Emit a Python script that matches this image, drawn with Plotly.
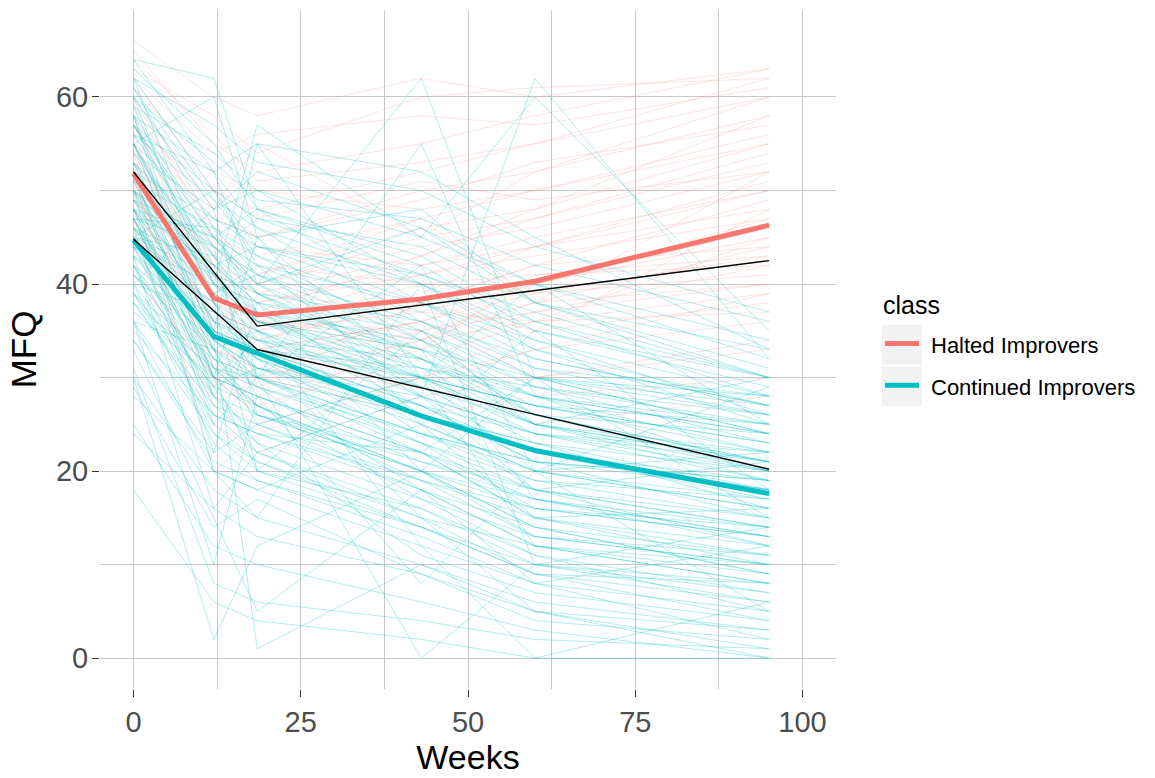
import plotly.graph_objects as go

# Assessment times (weeks)
weeks = [0, 12, 18.5, 43, 60, 95]

# Individual MFQ trajectories, one row per participant, values at each assessment
continued_improvers = [
    [58, 45, 40, 33, 28, 24], [52, 40, 36, 30, 25, 20], [48, 36, 33, 27, 21, 15],
    [45, 30, 28, 22, 18, 12], [41, 33, 35, 28, 24, 22], [50, 42, 38, 35, 30, 26],
    [55, 38, 30, 22, 15, 10], [62, 50, 44, 38, 32, 27], [47, 28, 22, 15, 12, 8],
    [43, 35, 33, 30, 27, 25], [38, 26, 24, 18, 14, 9], [60, 48, 50, 40, 34, 28],
    [49, 37, 34, 25, 20, 16], [53, 44, 40, 30, 25, 21], [36, 20, 18, 12, 8, 5],
    [46, 39, 36, 31, 28, 25], [57, 42, 38, 26, 18, 14], [44, 31, 29, 24, 21, 19],
    [51, 35, 31, 28, 24, 20], [40, 29, 27, 20, 16, 13], [64, 52, 46, 36, 30, 24],
    [48, 45, 42, 35, 29, 23], [42, 24, 20, 16, 10, 6], [55, 47, 44, 41, 36, 30],
    [39, 32, 30, 26, 22, 18], [50, 30, 26, 20, 14, 11], [45, 41, 37, 33, 30, 27],
    [34, 22, 25, 18, 12, 8], [59, 40, 34, 30, 27, 22], [47, 33, 30, 23, 19, 15],
    [43, 38, 35, 27, 22, 17], [52, 28, 24, 19, 16, 14], [37, 30, 28, 22, 17, 12],
    [61, 46, 41, 32, 25, 19], [49, 41, 39, 36, 31, 28], [44, 27, 23, 17, 13, 10],
    [53, 36, 32, 26, 23, 20], [30, 18, 15, 10, 6, 3], [56, 49, 46, 40, 33, 25],
    [41, 34, 31, 25, 20, 16], [48, 25, 21, 14, 9, 4], [46, 37, 35, 30, 27, 23],
    [54, 43, 37, 28, 22, 18], [39, 28, 26, 21, 18, 14], [25, 12, 10, 6, 3, 0],
    [50, 39, 36, 29, 25, 21], [58, 31, 27, 20, 17, 13], [42, 35, 33, 31, 29, 26],
    [47, 44, 41, 34, 28, 22], [35, 26, 22, 16, 11, 7], [63, 55, 48, 42, 35, 30],
    [45, 32, 29, 23, 18, 15], [51, 46, 43, 37, 31, 26], [40, 23, 19, 13, 8, 2],
    [55, 34, 31, 27, 24, 21], [18, 6, 4, 2, 0, 0], [44, 40, 38, 33, 26, 20],
    [49, 34, 30, 24, 21, 18], [57, 45, 39, 32, 27, 23], [38, 31, 27, 19, 15, 11],
    [46, 22, 38, 20, 30, 15], [52, 30, 45, 25, 35, 18], [40, 48, 30, 42, 20, 22],
    [58, 35, 55, 30, 12, 10], [36, 10, 28, 8, 20, 5], [50, 20, 15, 40, 10, 8],
    [44, 38, 20, 35, 25, 30], [62, 40, 57, 45, 60, 35], [33, 15, 5, 18, 8, 12],
    [48, 42, 30, 55, 28, 20], [55, 60, 45, 30, 40, 25], [42, 28, 35, 12, 0, 6],
    [30, 2, 12, 20, 14, 9], [47, 34, 1, 10, 5, 3], [39, 25, 30, 0, 10, 14],
    [53, 45, 40, 62, 30, 28], [45, 50, 42, 28, 62, 32], [60, 38, 32, 15, 5, 0],
    [28, 20, 18, 25, 15, 16], [36, 33, 25, 30, 20, 29], [64, 62, 48, 38, 33, 27],
    [50, 44, 26, 22, 30, 24], [43, 16, 22, 28, 18, 21], [56, 52, 40, 46, 38, 33],
    [57, 50, 47, 44, 38, 30], [54, 48, 52, 46, 40, 34], [60, 53, 49, 47, 42, 36],
    [49, 45, 48, 43, 36, 28], [62, 57, 53, 50, 44, 37], [52, 47, 45, 48, 38, 31],
    [46, 42, 44, 40, 35, 29], [58, 52, 55, 52, 45, 33], [55, 39, 42, 38, 34, 26],
    [51, 43, 47, 41, 37, 30], [48, 39, 41, 36, 32, 27], [59, 54, 50, 45, 40, 32],
    [44, 36, 34, 32, 26, 24], [47, 29, 31, 26, 22, 19], [42, 31, 30, 24, 20, 17],
    [50, 36, 28, 21, 17, 14], [38, 27, 25, 19, 13, 11], [45, 26, 24, 22, 15, 12],
    [53, 33, 29, 18, 12, 9], [41, 30, 20, 14, 10, 7], [36, 24, 21, 15, 9, 6],
    [48, 32, 27, 17, 11, 5], [55, 41, 35, 24, 19, 17], [43, 33, 26, 20, 13, 10],
    [39, 29, 23, 11, 7, 4], [46, 35, 32, 23, 16, 13], [52, 38, 33, 27, 21, 19],
    [34, 21, 19, 14, 9, 8], [29, 14, 17, 9, 4, 2], [57, 44, 39, 29, 23, 16],
    [61, 49, 43, 34, 26, 21], [40, 37, 32, 26, 23, 18], [45, 43, 39, 31, 25, 22],
    [50, 41, 36, 32, 28, 24], [48, 30, 34, 29, 26, 21], [24, 16, 13, 9, 5, 1],
    [31, 8, 6, 4, 2, 1], [53, 40, 37, 34, 29, 25], [47, 46, 37, 30, 24, 19],
    [56, 43, 36, 33, 17, 13],
]

halted_improvers = [
    [60, 48, 45, 50, 52, 58], [55, 40, 38, 42, 45, 50], [50, 35, 33, 36, 40, 47],
    [48, 32, 30, 34, 38, 44], [57, 45, 42, 40, 41, 43], [62, 50, 48, 52, 55, 62],
    [46, 30, 28, 33, 37, 42], [53, 42, 40, 44, 46, 52], [58, 38, 36, 35, 38, 40],
    [44, 28, 25, 30, 35, 38], [65, 55, 52, 55, 58, 63], [51, 36, 34, 38, 42, 49],
    [49, 40, 36, 34, 36, 37], [56, 44, 41, 46, 48, 55], [47, 33, 31, 29, 33, 36],
    [54, 30, 27, 32, 36, 45], [59, 46, 44, 42, 44, 48], [52, 37, 35, 40, 39, 41],
    [43, 25, 22, 28, 30, 33], [61, 52, 50, 48, 50, 56], [50, 44, 40, 45, 47, 53],
    [55, 34, 30, 26, 28, 30], [48, 36, 38, 41, 43, 47], [57, 41, 39, 37, 40, 45],
    [45, 38, 34, 39, 44, 50], [63, 58, 54, 60, 61, 62], [52, 20, 24, 30, 33, 39],
    [49, 42, 37, 43, 48, 58], [54, 39, 33, 36, 30, 34], [58, 48, 55, 45, 52, 60],
    [47, 29, 36, 33, 41, 42], [53, 43, 29, 38, 35, 48], [66, 60, 58, 62, 60, 63],
    [41, 30, 26, 35, 25, 28], [56, 35, 41, 47, 38, 52], [60, 45, 43, 47, 50, 55],
    [52, 39, 36, 41, 44, 51], [57, 47, 45, 49, 53, 57], [50, 33, 31, 35, 37, 40],
    [64, 56, 51, 53, 55, 60], [46, 35, 32, 36, 39, 43], [55, 42, 39, 43, 47, 54],
    [48, 37, 35, 37, 36, 39], [59, 50, 47, 51, 49, 52], [51, 31, 29, 34, 40, 46],
    [62, 54, 56, 58, 57, 61], [45, 27, 30, 38, 42, 44],
]

# Estimated class mean trajectories
halted_mean = [51.8, 38.5, 36.7, 38.4, 40.3, 46.3]
continued_mean = [44.7, 34.4, 32.6, 25.9, 22.2, 17.6]

# Piecewise linear fits (knot at 18.5 weeks)
fit_weeks = [0, 18.5, 95]
halted_fit = [52.0, 35.5, 42.5]
continued_fit = [44.8, 33.0, 20.2]

class_names = ["Halted Improvers", "Continued Improvers"]
RED = "#F8766D"
CYAN = "#00BFC4"
RED_FAINT = "rgba(248,118,109,0.2)"
CYAN_FAINT = "rgba(0,191,196,0.3)"

FONT = "Liberation Sans, Arial, sans-serif"
GRID = "#c8c8c8"

fig = go.Figure()

# Individual trajectories, the two classes interleaved
n = max(len(continued_improvers), len(halted_improvers))
for i in range(n):
    if i < len(halted_improvers):
        fig.add_trace(go.Scatter(x=weeks, y=halted_improvers[i], mode="lines",
                                 line=dict(color=RED_FAINT, width=1),
                                 hoverinfo="skip", showlegend=False))
    if i < len(continued_improvers):
        fig.add_trace(go.Scatter(x=weeks, y=continued_improvers[i], mode="lines",
                                 line=dict(color=CYAN_FAINT, width=1),
                                 hoverinfo="skip", showlegend=False))

# Class means
fig.add_trace(go.Scatter(x=weeks, y=halted_mean, mode="lines", name=class_names[0],
                         line=dict(color=RED, width=5), showlegend=False))
fig.add_trace(go.Scatter(x=weeks, y=continued_mean, mode="lines", name=class_names[1],
                         line=dict(color=CYAN, width=5), showlegend=False))

# Piecewise fits
for fit in (halted_fit, continued_fit):
    fig.add_trace(go.Scatter(x=fit_weeks, y=fit, mode="lines",
                             line=dict(color="black", width=1.4),
                             hoverinfo="skip", showlegend=False))

# Plot area geometry (pixels)
W, H = 1155, 778
ML, MR, MT, MB = 100, 319, 10, 84
PW, PH = W - ML - MR, H - MT - MB


def px(xp):
    return (xp - ML) / PW


def py(yp):
    return (H - MB - yp) / PH


# Legend drawn beside the panel
shapes = []
annotations = [
    dict(text="class", x=px(881), y=py(307), xref="paper", yref="paper",
         xanchor="left", yanchor="middle", showarrow=False,
         font=dict(family=FONT, size=25, color="black")),
]
for k, (name, col) in enumerate(zip(class_names, [RED, CYAN])):
    top = 327 + 42 * k
    shapes.append(dict(type="rect", xref="paper", yref="paper",
                       x0=px(882), x1=px(922), y0=py(top), y1=py(top + 40),
                       fillcolor="#F2F2F2", line=dict(width=0), layer="above"))
    shapes.append(dict(type="line", xref="paper", yref="paper",
                       x0=px(885), x1=px(919), y0=py(top + 19), y1=py(top + 19),
                       line=dict(color=col, width=5), layer="above"))
    annotations.append(dict(text=name, x=px(929), y=py(top + 21), xref="paper",
                            yref="paper", xanchor="left", yanchor="middle",
                            showarrow=False,
                            font=dict(family=FONT, size=22, color="black")))

axis_common = dict(
    showgrid=True, gridcolor=GRID, gridwidth=1.3, zeroline=False,
    showline=False, ticks="outside", ticklen=7, tickwidth=1, tickcolor="#333333",
    tickfont=dict(family=FONT, size=29, color="#4D4D4D"),
)

fig.update_layout(
    width=W, height=H,
    margin=dict(l=ML, r=MR, t=MT, b=MB),
    paper_bgcolor="white", plot_bgcolor="white",
    font=dict(family=FONT),
    showlegend=False,
    xaxis=dict(range=[-5, 105], tick0=0, dtick=25,
               minor=dict(dtick=12.5, showgrid=True, gridcolor=GRID, gridwidth=1.3),
               title=dict(text="Weeks", font=dict(family=FONT, size=34, color="black"),
                          standoff=6),
               **axis_common),
    yaxis=dict(range=[-3.3, 69.3], tick0=0, dtick=20, ticklabelstandoff=-2,
               minor=dict(dtick=10, showgrid=True, gridcolor=GRID, gridwidth=1.3),
               title=dict(text="MFQ", font=dict(family=FONT, size=35, color="black"),
                          standoff=8),
               **axis_common),
    shapes=shapes,
    annotations=annotations,
)

fig.write_html("out.html")
